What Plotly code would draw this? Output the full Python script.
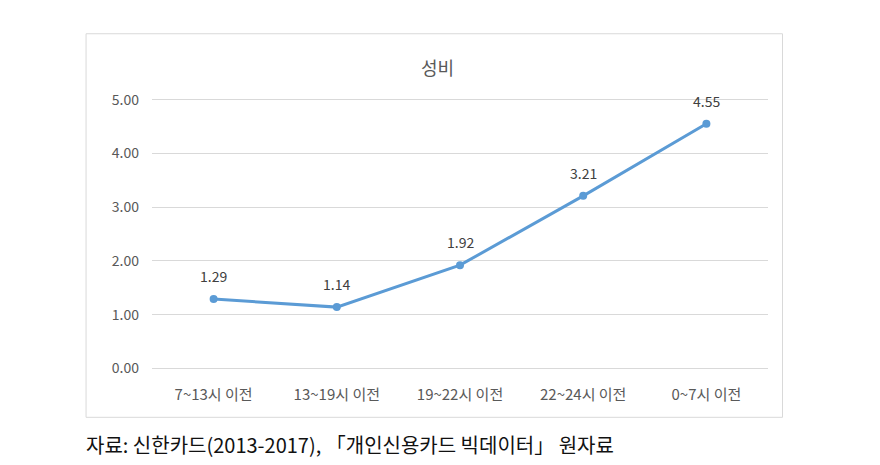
import plotly.graph_objects as go

categories = ["7~13시 이전", "13~19시 이전", "19~22시 이전", "22~24시 이전", "0~7시 이전"]
values = [1.29, 1.14, 1.92, 3.21, 4.55]
y_ticks = [0, 1, 2, 3, 4, 5]

FONT = "Noto Sans CJK KR"
L, R, T, B = 152, 111.5, 97.5, 94.5
W, H = 880, 465
pw = W - L - R
ph = H - T - B

def px_x(x):
    return (x - L) / pw

def px_y(y):
    return (H - B - y) / ph

fig = go.Figure()
fig.add_trace(go.Scatter(
    x=categories, y=values, mode="lines+markers",
    line=dict(color="#5B9BD5", width=3),
    marker=dict(color="#5B9BD5", size=8),
    cliponaxis=False, hoverinfo="skip",
))

for c, v in zip(categories, values):
    fig.add_annotation(x=c, y=v, text=f"{v:.2f}", showarrow=False,
                       yshift=23, font=dict(family=FONT, size=14, color="#404040"))

fig.add_annotation(xref="paper", yref="paper", x=px_x(438), y=px_y(66),
                   text="성비", showarrow=False, xanchor="center", yanchor="middle",
                   font=dict(family=FONT, size=18, color="#595959"))

fig.add_annotation(xref="paper", yref="paper", x=px_x(84), y=px_y(445),
                   text="자료: 신한카드(2013-2017), 「개인신용카드 빅데이터」 원자료",
                   showarrow=False, xanchor="left", yanchor="middle",
                   font=dict(family=FONT, size=20, color="#111111"))

fig.add_shape(type="rect", xref="paper", yref="paper",
              x0=px_x(86), x1=px_x(783), y0=px_y(418), y1=px_y(33),
              line=dict(color="#D9D9D9", width=1), fillcolor="rgba(0,0,0,0)", layer="below")

fig.update_layout(
    width=W, height=H,
    margin=dict(l=L, r=R, t=T, b=B, pad=0),
    paper_bgcolor="white", plot_bgcolor="white",
    showlegend=False,
    font=dict(family=FONT, color="#595959", size=12),
)
fig.update_xaxes(type="category", range=[-0.5, 4.5], showgrid=False, zeroline=False,
                 showline=False, ticks="", ticklabelstandoff=14,
                 tickfont=dict(family=FONT, size=15, color="#595959"))
fig.update_yaxes(range=[-0.03, 5.03], tickvals=y_ticks, tickformat=".2f",
                 showgrid=True, gridcolor="#D9D9D9", gridwidth=1,
                 zeroline=False, showline=False, ticks="", ticklabelstandoff=12,
                 tickfont=dict(family=FONT, size=14, color="#595959"))

fig.write_html("out.html", config={"displayModeBar": False},
               post_script="document.body.style.margin='0';")
